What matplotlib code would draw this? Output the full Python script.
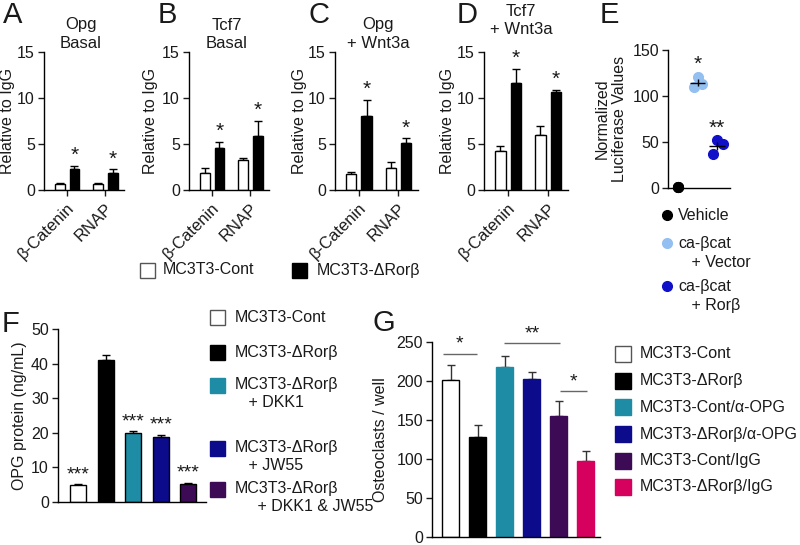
import matplotlib
matplotlib.use('Agg')
import matplotlib.pyplot as plt
from matplotlib.patches import Rectangle
import numpy as np

plt.rcParams['font.family'] = ['Liberation Sans', 'DejaVu Sans']
plt.rcParams['font.size'] = 12
plt.rcParams['axes.linewidth'] = 1.0
plt.rcParams['xtick.major.width'] = 1.0
plt.rcParams['ytick.major.width'] = 1.0
plt.rcParams['xtick.major.size'] = 4
plt.rcParams['ytick.major.size'] = 4
plt.rcParams['ytick.major.pad'] = 2.5
TXT = '#1a1a1a'

# ---- DATA ----
# A-D: ChIP, relative to IgG
chip_groups = ['β-Catenin', 'RNAP']
a_cont, a_cont_err = [0.7, 0.7], [0.1, 0.1]
a_ror, a_ror_err = [2.3, 1.9], [0.3, 0.35]
b_cont, b_cont_err = [1.9, 3.3], [0.5, 0.2]
b_ror, b_ror_err = [4.6, 5.9], [0.6, 1.6]
c_cont, c_cont_err = [1.7, 2.4], [0.3, 0.6]
c_ror, c_ror_err = [8.0, 5.1], [1.8, 0.5]
d_cont, d_cont_err = [4.2, 6.0], [0.6, 1.0]
d_ror, d_ror_err = [11.6, 10.7], [1.6, 0.2]
chip_titles = [('Opg', 'Basal'), ('Tcf7', 'Basal'), ('Opg', '+ Wnt3a'), ('Tcf7', '+ Wnt3a')]

# E: luciferase
e_vehicle = [0.8, 0.8, 0.8]
e_vector = [121, 110, 113]
e_ror = [52, 48, 37]
e_jitter = [0.0, -0.2, 0.25]
e_ror_jitter = [0.0, 0.3, -0.2]

# F: OPG protein
f_labels = ['MC3T3-Cont', 'MC3T3-ΔRorβ', 'MC3T3-ΔRorβ\n   + DKK1', 'MC3T3-ΔRorβ\n   + JW55',
            'MC3T3-ΔRorβ\n     + DKK1 & JW55']
f_vals = [5.0, 41.0, 20.0, 18.7, 5.3]
f_err = [0.1, 1.5, 0.5, 0.8, 0.2]
f_stars = ['***', '', '***', '***', '***']

# G: osteoclasts
g_labels = ['MC3T3-Cont', 'MC3T3-ΔRorβ', 'MC3T3-Cont/α-OPG', 'MC3T3-ΔRorβ/α-OPG',
            'MC3T3-Cont/IgG', 'MC3T3-ΔRorβ/IgG']
g_vals = [201, 128, 218, 203, 155, 98]
g_err = [19, 16, 14, 8, 20, 12]
g_brackets = [(-0.3, 0.95, 235, '*'), (1.95, 4.05, 249, '**'), (4.05, 5.05, 187, '*')]

WHITE, BLACK = 'white', 'black'
TEAL, NAVY, PURPLE, PINK = '#1f8ca6', '#0b0b8c', '#3d0b56', '#d6005e'
LIGHTBLUE, BLUE = '#93c0f0', '#1010c8'
f_colors = [WHITE, BLACK, TEAL, NAVY, PURPLE]
g_colors = [WHITE, BLACK, TEAL, NAVY, PURPLE, PINK]

W, H = 800, 545
fig = plt.figure(figsize=(W / 100, H / 100), dpi=100)


def ax_px(left, top, right, bottom):
    return fig.add_axes([left / W, 1 - bottom / H, (right - left) / W, (bottom - top) / H])


def style(ax):
    for s in ['top', 'right']:
        ax.spines[s].set_visible(False)
    ax.tick_params(colors=TXT, labelsize=11.5)


def ylabel_at(ax, label, right_px, left, right, fs=11.5):
    # place the label so that its right edge sits at right_px (figure pixels)
    ax.set_ylabel(label, fontsize=fs, color=TXT, linespacing=1.15)
    ax.yaxis.set_label_coords((right_px - left) / (right - left), 0.5)


# ---- A-D ----
chip_data = [(a_cont, a_cont_err, a_ror, a_ror_err),
             (b_cont, b_cont_err, b_ror, b_ror_err),
             (c_cont, c_cont_err, c_ror, c_ror_err),
             (d_cont, d_cont_err, d_ror, d_ror_err)]
chip_boxes = [(44, 124), (189, 269), (335, 418), (484, 568)]
title_pos = [(81, 25), (227, 25), (378, 25), (521, 12)]
ylabel_right = [15, 158, 307, 455]
x = np.arange(len(chip_groups))
for i, (cont, ce, ror, re) in enumerate(chip_data):
    l, r = chip_boxes[i]
    ax = ax_px(l, 52, r, 190)
    style(ax)
    ax.bar(x - 0.19, cont, 0.26, color=WHITE, edgecolor='black', lw=1, zorder=2)
    ax.bar(x + 0.2, ror, 0.26, color=BLACK, edgecolor='black', lw=1, zorder=2)
    ax.errorbar(x - 0.19, cont, yerr=[np.zeros(2), ce], fmt='none', ecolor='black',
                elinewidth=1, capsize=3, zorder=1)
    ax.errorbar(x + 0.2, ror, yerr=[np.zeros(2), re], fmt='none', ecolor='black',
                elinewidth=1, capsize=3, zorder=1)
    for xi, v, e in zip(x, ror, re):
        ax.text(xi + 0.2, v + e + 0.1, '*', ha='center', va='bottom', fontsize=15, color=TXT)
    ax.set_xlim(-0.6, 1.5)
    ax.set_ylim(0, 15)
    ax.set_yticks([0, 5, 10, 15])
    ax.set_xticks(x)
    ax.set_xticklabels(chip_groups, rotation=45, ha='right', rotation_mode='anchor', fontsize=12)
    ylabel_at(ax, 'Relative to IgG', ylabel_right[i], l, r)
    tx, ty = title_pos[i]
    for k, line in enumerate(chip_titles[i]):
        fig.text(tx / W, 1 - (ty + 18 * k) / H, line, ha='center', va='center',
                 fontsize=12, color=TXT)

# ---- E ----
ax = ax_px(668, 50, 730, 188)
style(ax)
ax.plot(np.zeros(3), e_vehicle, 'o', color='black', ms=7, clip_on=False, zorder=3)
ax.plot(1 + np.array(e_jitter), e_vector, 'o', color=LIGHTBLUE, ms=7, zorder=2)
ax.plot(2 + np.array(e_ror_jitter), e_ror, 'o', color=BLUE, ms=7, zorder=2)
for xi, vals in [(1, e_vector), (2, e_ror)]:
    m = np.mean(vals)
    sem = np.std(vals, ddof=1) / np.sqrt(len(vals))
    ax.hlines(m, xi - 0.4, xi + 0.4, color='black', lw=1, zorder=4)
    ax.vlines(xi, m - sem, m + sem, color='black', lw=1, zorder=4)
ax.text(1, max(e_vector) + 3, '*', ha='center', va='bottom', fontsize=15, color=TXT)
ax.text(2, max(e_ror) + 3, '**', ha='center', va='bottom', fontsize=15, color=TXT)
ax.set_xlim(-0.5, 2.65)
ax.set_ylim(0, 150)
ax.set_yticks([0, 50, 100, 150])
ax.set_xticks([])
ylabel_at(ax, 'Normalized\nLuciferase Values', 627, 668, 730)

# ---- F ----
ax = ax_px(58, 329, 206, 502)
style(ax)
xf = np.arange(len(f_vals))
ax.bar(xf, f_vals, 0.58, color=f_colors, edgecolor='black', lw=1, zorder=2)
ax.errorbar(xf, f_vals, yerr=[np.zeros(len(f_vals)), f_err], fmt='none', ecolor='black',
            elinewidth=1, capsize=3, zorder=1)
for xi, v, e, s in zip(xf, f_vals, f_err, f_stars):
    if s:
        ax.text(xi, v + e + 0.3, s, ha='center', va='bottom', fontsize=14, color=TXT)
ax.set_xlim(-0.73, 4.65)
ax.set_ylim(0, 50)
ax.set_yticks([0, 10, 20, 30, 40, 50])
ax.set_xticks([])
ylabel_at(ax, 'OPG protein (ng/mL)', 27, 58, 206)

# ---- G ----
ax = ax_px(432, 342, 600, 537)
style(ax)
xg = np.arange(len(g_vals))
ax.bar(xg, g_vals, 0.63, color=g_colors, edgecolor=['black', 'black', TEAL, NAVY, PURPLE, PINK],
       lw=1, zorder=2)
ax.errorbar(xg, g_vals, yerr=[np.zeros(len(g_vals)), g_err], fmt='none', ecolor='#333333',
            elinewidth=1, capsize=3, zorder=1)
for x0, x1, yb, s in g_brackets:
    ax.hlines(yb, x0, x1, color='#666666', lw=1)
    ax.text((x0 + x1) / 2, yb + 1, s, ha='center', va='bottom', fontsize=14, color=TXT)
ax.set_xlim(-0.7, 5.52)
ax.set_ylim(0, 250)
ax.set_yticks([0, 50, 100, 150, 200, 250])
ax.set_xticks([])
ylabel_at(ax, 'Osteoclasts / well', 388, 432, 600)

# ---- overlay for legends and panel letters (pixel coords) ----
ov = fig.add_axes([0, 0, 1, 1])
ov.set_xlim(0, W)
ov.set_ylim(H, 0)
ov.axis('off')

for lab, (px, py) in zip('ABCDEFG', [(3, 15), (158, 15), (308, 15), (457, 15), (600, 15),
                                     (2, 324), (373, 323)]):
    ov.text(px, py, lab, fontsize=21, ha='left', va='center', color=TXT)


def key_square(px, py, color, label, size=15, fs=11.5, textx=None):
    ov.add_patch(Rectangle((px, py - size / 2), size, size, facecolor=color,
                           edgecolor='#555555' if color == WHITE else color, lw=1))
    ov.text(textx if textx else px + size + 8, py, label, ha='left', va='center',
            fontsize=fs, color=TXT, linespacing=1.35)


# A-D legend
key_square(140, 270, WHITE, 'MC3T3-Cont')
key_square(292, 270, BLACK, 'MC3T3-ΔRorβ', textx=317)

# E legend
for lab, col, py in [('Vehicle', 'black', 215), ('ca-βcat\n   + Vector', LIGHTBLUE, 253),
                     ('ca-βcat\n   + Rorβ', BLUE, 296)]:
    first_y = py if '\n' not in lab else py - 10
    ov.plot(667, first_y, 'o', color=col, ms=7)
    ov.text(678, py, lab, ha='left', va='center', fontsize=11.5, color=TXT, linespacing=1.35)

# F legend
for lab, col, py in zip(f_labels, f_colors, [317, 352, 385, 448, 489]):
    ov.add_patch(Rectangle((210, py - 7.5), 15, 15, facecolor=col,
                           edgecolor='#555555' if col == WHITE else col, lw=1))
    off = 8.5 if '\n' in lab else 0
    ov.text(235, py + off, lab, ha='left', va='center', fontsize=11.5, color=TXT, linespacing=1.3)

# G legend
for lab, col, py in zip(g_labels, g_colors, [354, 381, 407, 434, 461, 487]):
    key_square(615, py, col, lab, size=16, textx=640)

fig.savefig('out.png', dpi=100)
